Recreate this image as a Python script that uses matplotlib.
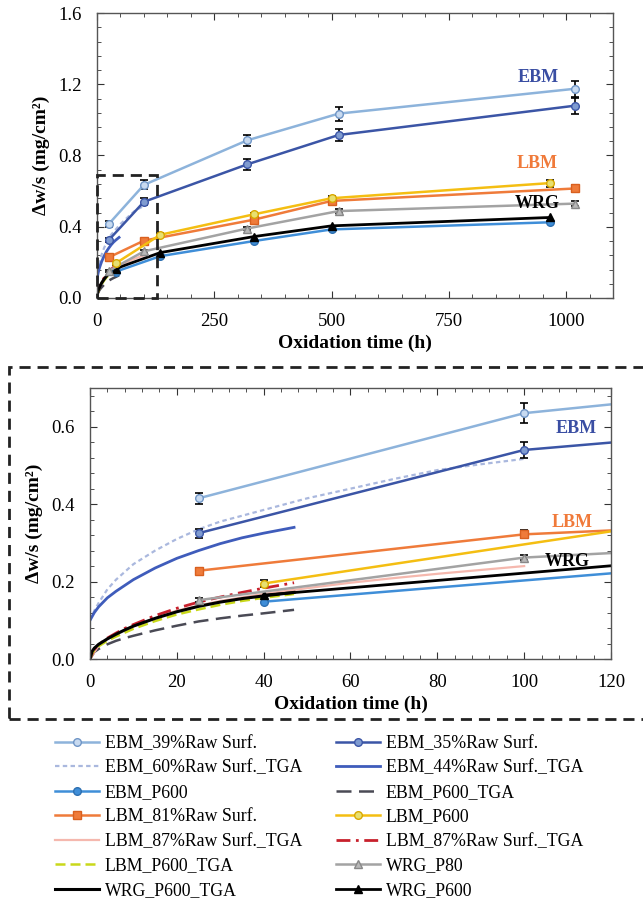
import matplotlib
matplotlib.use("Agg")
import matplotlib.pyplot as plt
from matplotlib.patches import Rectangle
from matplotlib.ticker import MultipleLocator, FormatStrFormatter

plt.rcParams['font.family'] = ['Liberation Serif', 'DejaVu Serif']

# --- marker series (interrupted oxidation) ---
t_raw = [25, 100, 320, 515, 1020]
ebm39 = [0.415, 0.635, 0.885, 1.035, 1.175]
ebm39_err = [0.015, 0.025, 0.03, 0.04, 0.045]
ebm35 = [0.325, 0.54, 0.75, 0.915, 1.08]
ebm35_err = [0.012, 0.02, 0.03, 0.035, 0.045]

t_lbm81 = [25, 100, 335, 500, 1020]
lbm81 = [0.228, 0.322, 0.44, 0.545, 0.615]
lbm81_err = [0.006, 0.01, 0.01, 0.01, 0.02]

t_wrg80 = [25, 100, 320, 515, 1020]
wrg80 = [0.152, 0.262, 0.39, 0.488, 0.53]
wrg80_err = [0.005, 0.007, 0.008, 0.01, 0.012]

t_p600 = [40, 135, 335, 500, 965]
ebm_p600 = [0.148, 0.235, 0.32, 0.385, 0.425]
lbm_p600 = [0.195, 0.355, 0.47, 0.56, 0.645]
lbm_p600_err = [0.01, 0.008, 0.01, 0.01, 0.02]
wrg_p600 = [0.165, 0.255, 0.345, 0.405, 0.452]

# --- TGA curves ---
t_ebm60 = [0, 1, 2, 4, 6, 8, 10, 15, 20, 25, 30, 40, 50, 60, 70, 80, 90, 100]
ebm60_tga = [0.10, 0.125, 0.145, 0.18, 0.205, 0.225, 0.245, 0.28, 0.31, 0.335,
             0.355, 0.385, 0.415, 0.44, 0.465, 0.488, 0.503, 0.517]
t_short = [0, 1, 2, 4, 6, 8, 10, 15, 20, 25, 30, 35, 40, 47]
ebm44_tga = [0.10, 0.12, 0.135, 0.158, 0.175, 0.19, 0.205, 0.235, 0.26, 0.28,
             0.298, 0.313, 0.325, 0.34]
ebm_p600_tga = [0.0, 0.018, 0.026, 0.038, 0.047, 0.054, 0.06, 0.074, 0.086,
                0.097, 0.105, 0.112, 0.118, 0.127]
lbm87_tga_b = [0.0, 0.025, 0.037, 0.054, 0.067, 0.079, 0.089, 0.112, 0.131,
               0.147, 0.16, 0.172, 0.183, 0.197]
t_wrg = [0, 0.5, 1, 2, 4, 6, 8, 10, 15, 20, 25, 30, 35, 40, 47]
wrg_p600_tga = [0.0, 0.02, 0.028, 0.038, 0.052, 0.064, 0.075, 0.085, 0.105,
                0.122, 0.136, 0.147, 0.156, 0.163, 0.172]
lbm_p600_tga = [0.0, 0.015, 0.023, 0.033, 0.047, 0.058, 0.068, 0.078, 0.098,
                0.115, 0.128, 0.14, 0.15, 0.158, 0.168]
t_lbm87 = [0, 2, 5, 10, 20, 30, 40, 50, 60, 70, 80, 90, 100]
lbm87_tga_a = [0.0, 0.035, 0.06, 0.085, 0.125, 0.15, 0.168, 0.183, 0.197,
               0.209, 0.22, 0.23, 0.24]

c_ebm39 = '#8db3db'
c_ebm35 = '#3b55a6'
c_ebmp6 = '#3f8ed8'
c_lbm81 = '#ef7b3a'
c_lbmp6 = '#f4be12'
c_wrg80 = '#a3a3a3'


def draw(ax):
    h = {}
    h['ebm60'], = ax.plot(t_ebm60, ebm60_tga, color='#aab8de', lw=1.6, ls=(0, (2, 1.5)))
    h['ebm44'], = ax.plot(t_short, ebm44_tga, color='#3f5cbb', lw=2)
    h['ebmp6t'], = ax.plot(t_short, ebm_p600_tga, color='#4a4a55', lw=1.8, ls=(0, (6, 3)))
    h['lbm87a'], = ax.plot(t_lbm87, lbm87_tga_a, color='#f5b8ae', lw=1.6)
    h['lbm87b'], = ax.plot(t_short, lbm87_tga_b, color='#c8202c', lw=2, ls=(0, (5, 2, 1, 2)))
    h['lbmp6t'], = ax.plot(t_wrg, lbm_p600_tga, color='#c9d81a', lw=1.8, ls=(0, (4, 2)))
    h['wrgt'], = ax.plot(t_wrg, wrg_p600_tga, color='black', lw=2.2)

    kw = dict(capsize=3, ecolor='black', elinewidth=1.2, capthick=1.2, markersize=5.5)
    h['ebmp6'] = ax.errorbar(t_p600, ebm_p600, color=c_ebmp6, marker='o', lw=1.8,
                             mfc=c_ebmp6, mec='#2d6fb0', **kw)[0]
    h['wrgp6'] = ax.errorbar(t_p600, wrg_p600, color='black', marker='^', lw=2,
                             mfc='black', mec='black', **kw)[0]
    h['wrg80'] = ax.errorbar(t_wrg80, wrg80, yerr=wrg80_err, color=c_wrg80, marker='^',
                             lw=1.8, mfc='#b8b8b8', mec='#888888', **kw)[0]
    h['lbm81'] = ax.errorbar(t_lbm81, lbm81, yerr=lbm81_err, color=c_lbm81, marker='s',
                             lw=1.8, mfc=c_lbm81, mec='#d9601f', **kw)[0]
    h['lbmp6'] = ax.errorbar(t_p600, lbm_p600, yerr=lbm_p600_err, color=c_lbmp6, marker='o',
                             lw=1.8, mfc='#e8e070', mec='#d9a800', **kw)[0]
    h['ebm35'] = ax.errorbar(t_raw, ebm35, yerr=ebm35_err, color=c_ebm35, marker='o',
                             lw=1.8, mfc='#7f9bd0', mec=c_ebm35, **kw)[0]
    h['ebm39'] = ax.errorbar(t_raw, ebm39, yerr=ebm39_err, color=c_ebm39, marker='o',
                             lw=1.8, mfc='#c8daf0', mec='#6f95c6', **kw)[0]
    return h


def style(ax):
    ax.tick_params(which='both', direction='in', top=True, right=True,
                   labelsize=13.5, colors='#333333', labelcolor='black', pad=11)
    ax.tick_params(which='major', length=5)
    ax.tick_params(which='minor', length=3)
    for s in ax.spines.values():
        s.set_color('#555555')
        s.set_linewidth(1)
    ax.set_xlabel('Oxidation time (h)', fontsize=14, fontweight='bold', labelpad=3)
    ax.set_ylabel('Δw/s (mg/cm²)', fontsize=14, fontweight='bold', labelpad=6)


fig = plt.figure(figsize=(6.43, 9.02), dpi=100)

ax1 = fig.add_axes([97 / 643, 1 - 298 / 902, 516 / 643, 285 / 902])
h = draw(ax1)
ax1.set_xlim(0, 1100)
ax1.set_ylim(0, 1.6)
ax1.xaxis.set_major_locator(MultipleLocator(250))
ax1.xaxis.set_minor_locator(MultipleLocator(50))
ax1.yaxis.set_major_locator(MultipleLocator(0.4))
ax1.yaxis.set_minor_locator(MultipleLocator(0.08))
ax1.yaxis.set_major_formatter(FormatStrFormatter('%.1f'))
style(ax1)
ax1.add_patch(Rectangle((0, 0), 128, 0.69, fill=False, ec='#222222', lw=2,
                        ls=(0, (4, 2.5)), clip_on=False, zorder=5))
ax1.text(940, 1.215, 'EBM', color='#3a4ea3', fontsize=13, fontweight='bold', ha='center')
ax1.text(938, 0.73, 'LBM', color='#f07a3a', fontsize=13, fontweight='bold', ha='center')
ax1.text(938, 0.505, 'WRG', color='black', fontsize=13, fontweight='bold', ha='center')

ax2 = fig.add_axes([90 / 643, 1 - 659 / 902, 521 / 643, 271 / 902])
draw(ax2)
ax2.set_xlim(0, 120)
ax2.set_ylim(0, 0.7)
ax2.xaxis.set_major_locator(MultipleLocator(20))
ax2.xaxis.set_minor_locator(MultipleLocator(4))
ax2.yaxis.set_major_locator(MultipleLocator(0.2))
ax2.yaxis.set_minor_locator(MultipleLocator(0.04))
ax2.yaxis.set_major_formatter(FormatStrFormatter('%.1f'))
style(ax2)
ax2.text(112, 0.585, 'EBM', color='#3a4ea3', fontsize=13, fontweight='bold', ha='center')
ax2.text(111, 0.34, 'LBM', color='#f07a3a', fontsize=13, fontweight='bold', ha='center')
ax2.text(110, 0.24, 'WRG', color='black', fontsize=13, fontweight='bold', ha='center')

# dashed frame around the zoomed view
fig.patches.append(Rectangle((9 / 643, 1 - 719 / 902), 1.0, (719 - 367) / 902,
                             transform=fig.transFigure, fill=False, ec='#222222',
                             lw=2, ls=(0, (4, 2.5)), clip_on=False))

labels = {
    'ebm39': 'EBM_39%Raw Surf.', 'ebm35': 'EBM_35%Raw Surf.',
    'ebm60': 'EBM_60%Raw Surf._TGA', 'ebm44': 'EBM_44%Raw Surf._TGA',
    'ebmp6': 'EBM_P600', 'ebmp6t': 'EBM_P600_TGA',
    'lbm81': 'LBM_81%Raw Surf.', 'lbmp6': 'LBM_P600',
    'lbm87a': 'LBM_87%Raw Surf._TGA', 'lbm87b': 'LBM_87%Raw Surf._TGA',
    'lbmp6t': 'LBM_P600_TGA', 'wrg80': 'WRG_P80',
    'wrgt': 'WRG_P600_TGA', 'wrgp6': 'WRG_P600',
}
order = ['ebm39', 'ebm60', 'ebmp6', 'lbm81', 'lbm87a', 'lbmp6t', 'wrgt',
         'ebm35', 'ebm44', 'ebmp6t', 'lbmp6', 'lbm87b', 'wrg80', 'wrgp6']
fig.legend([h[k] for k in order], [labels[k] for k in order], ncol=2,
           loc='upper left', bbox_to_anchor=(55 / 643, 1 - 735 / 902),
           frameon=False, fontsize=12.8, handlelength=2.5, handletextpad=0.3,
           columnspacing=1.9, labelspacing=0.42, borderpad=0, borderaxespad=0)

fig.savefig('out.png', dpi=100)
